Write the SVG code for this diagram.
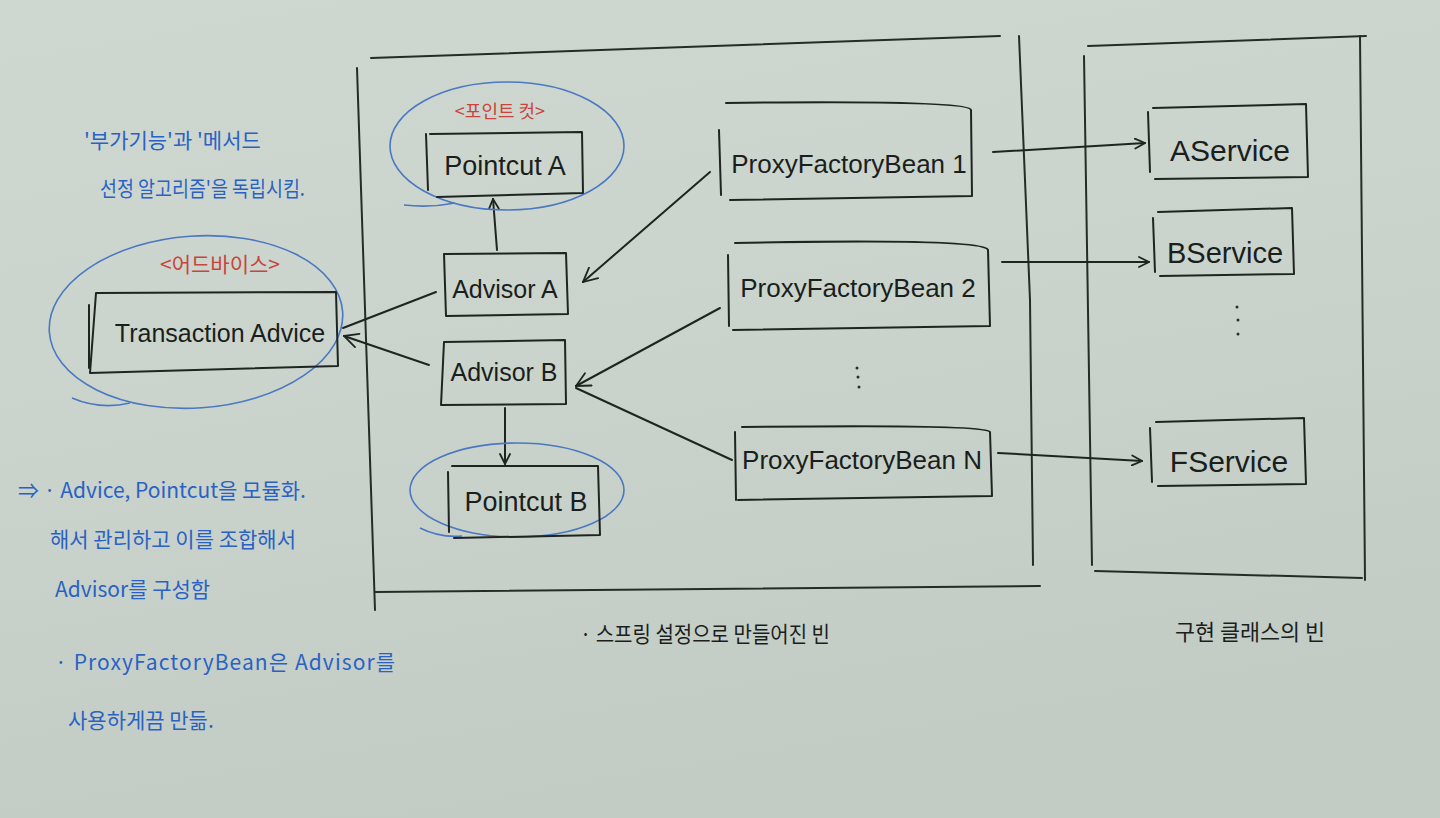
<svg xmlns="http://www.w3.org/2000/svg" width="1440" height="818" viewBox="0 0 1440 818">
<defs>
<linearGradient id="bg" x1="0" y1="0" x2="0.3" y2="1">
<stop offset="0" stop-color="#cfd8d0"/>
<stop offset="0.5" stop-color="#cad4cc"/>
<stop offset="1" stop-color="#c2ccc5"/>
</linearGradient>
<marker id="ah" viewBox="0 0 12 12" refX="11" refY="6" markerWidth="12" markerHeight="12" markerUnits="userSpaceOnUse" orient="auto">
<path d="M1,1 L11,6 L1,11" fill="none" stroke="#1f2421" stroke-width="1.8" stroke-linecap="round"/>
</marker>
<marker id="ahb" viewBox="0 0 16 16" refX="15" refY="8" markerWidth="16" markerHeight="16" markerUnits="userSpaceOnUse" orient="auto">
<path d="M1,1 L15,8 L1,15" fill="none" stroke="#1f2421" stroke-width="1.8" stroke-linecap="round"/>
</marker>
</defs>
<style>
.ink{fill:none;stroke:#1f2421;stroke-width:2;stroke-linecap:round;stroke-linejoin:round}
.frame{fill:none;stroke:#262b28;stroke-width:2;stroke-linecap:round}
.ell{fill:none;stroke:#4a78c2;stroke-width:1.6}
.lbl{font-family:"Liberation Sans","Noto Sans CJK KR",sans-serif;fill:#1a1e1c;text-anchor:middle}
.blue{font-family:"Noto Sans CJK KR","Liberation Sans",sans-serif;fill:#2a62c4}
.red{font-family:"Noto Sans CJK KR","Liberation Sans",sans-serif;fill:#c8453c;text-anchor:middle}
.cap{font-family:"Noto Sans CJK KR","Liberation Sans",sans-serif;fill:#1a1e1c}
.dot{fill:#2a2e2b}
</style>
<rect width="1440" height="818" fill="url(#bg)"/>

<g id="frames">
<path class="frame" d="M371,58 L1000,36"/>
<path class="frame" d="M357,68 L375,610"/>
<path class="frame" d="M375,592 L1040,586"/>
<path class="frame" d="M1019,36 L1030,300 L1033,565"/>
<path class="frame" d="M1088,46 L1366,36"/>
<path class="frame" d="M1084,56 L1092,565"/>
<path class="frame" d="M1360,36 L1365,580"/>
<path class="frame" d="M1095,571 L1362,578"/>
</g>

<g id="connectors">
<path class="ink" d="M993,152 L1145,143" marker-end="url(#ah)"/>
<path class="ink" d="M1002,262 L1149,262" marker-end="url(#ah)"/>
<path class="ink" d="M998,453 L1142,461" marker-end="url(#ah)"/>
<path class="ink" d="M710,172 L583,282" marker-end="url(#ahb)"/>
<path class="ink" d="M720,308 L576,386" marker-end="url(#ahb)"/>
<path class="ink" d="M732,460 L576,388"/>
<path class="ink" d="M497,250 L493,199" marker-end="url(#ah)"/>
<path class="ink" d="M505,408 L505,464" marker-end="url(#ah)"/>
<path class="ink" d="M436,292 L343,328"/>
<path class="ink" d="M429,365 L344,336" marker-end="url(#ahb)"/>
</g>

<g id="transaction-advice">
<ellipse class="ell" cx="196" cy="322" rx="147" ry="86" transform="rotate(-4 196 322)"/>
<path class="ell" d="M72,398 Q100,410 130,403"/>
<path class="ink" d="M96,293 L336,292 L338,366 L90,373 Z"/>
<path class="ink" d="M89,305 L89,368"/>
<text class="red" x="220" y="272" font-size="21">&lt;어드바이스&gt;</text>
<text class="lbl" x="220" y="342" font-size="25">Transaction Advice</text>
</g>

<g id="pointcut-a">
<ellipse class="ell" cx="507" cy="146" rx="117" ry="64"/>
<path class="ell" d="M404,205 Q430,208 455,203"/>
<path class="ink" d="M430,134 L582,132 L583,193 L437,197"/>
<path class="ink" d="M426,134 L428,190"/>
<text class="red" x="500" y="118" font-size="18">&lt;포인트 컷&gt;</text>
<text class="lbl" x="505" y="175" font-size="27">Pointcut A</text>
</g>

<g id="advisor-a">
<path class="ink" d="M444,254 L566,253 L568,314 L446,316 Z"/>
<text class="lbl" x="505" y="298" font-size="25">Advisor A</text>
</g>

<g id="advisor-b">
<path class="ink" d="M444,342 L565,340 L566,404 L441,405 Z"/>
<text class="lbl" x="504" y="381" font-size="25">Advisor B</text>
</g>

<g id="pointcut-b">
<ellipse class="ell" cx="517" cy="490" rx="107" ry="47"/>
<path class="ell" d="M420,528 Q440,538 462,536"/>
<path class="ink" d="M452,466 L598,466 L600,535 L454,538"/>
<path class="ink" d="M448,472 L449,532"/>
<text class="lbl" x="526" y="511" font-size="27">Pointcut B</text>
</g>

<g id="pfb-1">
<path class="ink" d="M726,103 Q970,100 971,110 L972,196 L730,200"/>
<path class="ink" d="M719,130 L721,195"/>
<text class="lbl" x="849" y="173" font-size="26">ProxyFactoryBean 1</text>
</g>

<g id="pfb-2">
<path class="ink" d="M735,243 Q985,238 988,250 L990,326 L733,330"/>
<path class="ink" d="M728,255 L729,326"/>
<text class="lbl" x="858" y="297" font-size="26">ProxyFactoryBean 2</text>
</g>

<g id="pfb-n">
<path class="ink" d="M742,427 Q988,424 990,432 L992,496 L738,500"/>
<path class="ink" d="M735,432 L736,500"/>
<text class="lbl" x="862" y="469" font-size="26">ProxyFactoryBean N</text>
</g>

<g id="pfb-dots">
<circle class="dot" cx="857" cy="368" r="1.5"/>
<circle class="dot" cx="858" cy="377" r="1.5"/>
<circle class="dot" cx="859" cy="387" r="1.5"/>
</g>

<g id="aservice">
<path class="ink" d="M1153,108 L1306,104 L1308,177 L1155,179"/>
<path class="ink" d="M1148,112 L1150,172"/>
<text class="lbl" x="1230" y="161" font-size="30">AService</text>
</g>

<g id="bservice">
<path class="ink" d="M1158,212 L1292,208 L1294,274 L1160,276"/>
<path class="ink" d="M1153,218 L1155,272"/>
<text class="lbl" x="1225" y="263" font-size="29">BService</text>
</g>

<g id="service-dots">
<circle class="dot" cx="1237" cy="307" r="1.5"/>
<circle class="dot" cx="1238" cy="320" r="1.5"/>
<circle class="dot" cx="1238" cy="334" r="1.5"/>
</g>

<g id="fservice">
<path class="ink" d="M1156,422 L1304,418 L1306,484 L1158,486"/>
<path class="ink" d="M1150,428 L1152,482"/>
<text class="lbl" x="1229" y="472" font-size="30">FService</text>
</g>

<g id="notes">
<text class="blue" x="84" y="148" font-size="21">'부가기능'과 '메서드</text>
<text class="blue" x="100" y="196" font-size="21" textLength="205" lengthAdjust="spacingAndGlyphs">선정 알고리즘'을 독립시킴.</text>
<text class="blue" x="18" y="498" font-size="21">⇒ · Advice, Pointcut을 모듈화.</text>
<text class="blue" x="50" y="547" font-size="21">해서 관리하고 이를 조합해서</text>
<text class="blue" x="55" y="597" font-size="21">Advisor를 구성함</text>
<text class="blue" x="55" y="670" font-size="21" textLength="340" lengthAdjust="spacing">· ProxyFactoryBean은 Advisor를</text>
<text class="blue" x="68" y="728" font-size="21">사용하게끔 만듦.</text>
</g>

<g id="captions">
<text class="cap" x="580" y="642" font-size="22" textLength="250" lengthAdjust="spacingAndGlyphs">· 스프링 설정으로 만들어진 빈</text>
<text class="cap" x="1175" y="640" font-size="22" textLength="150" lengthAdjust="spacingAndGlyphs">구현 클래스의 빈</text>
</g>
</svg>
